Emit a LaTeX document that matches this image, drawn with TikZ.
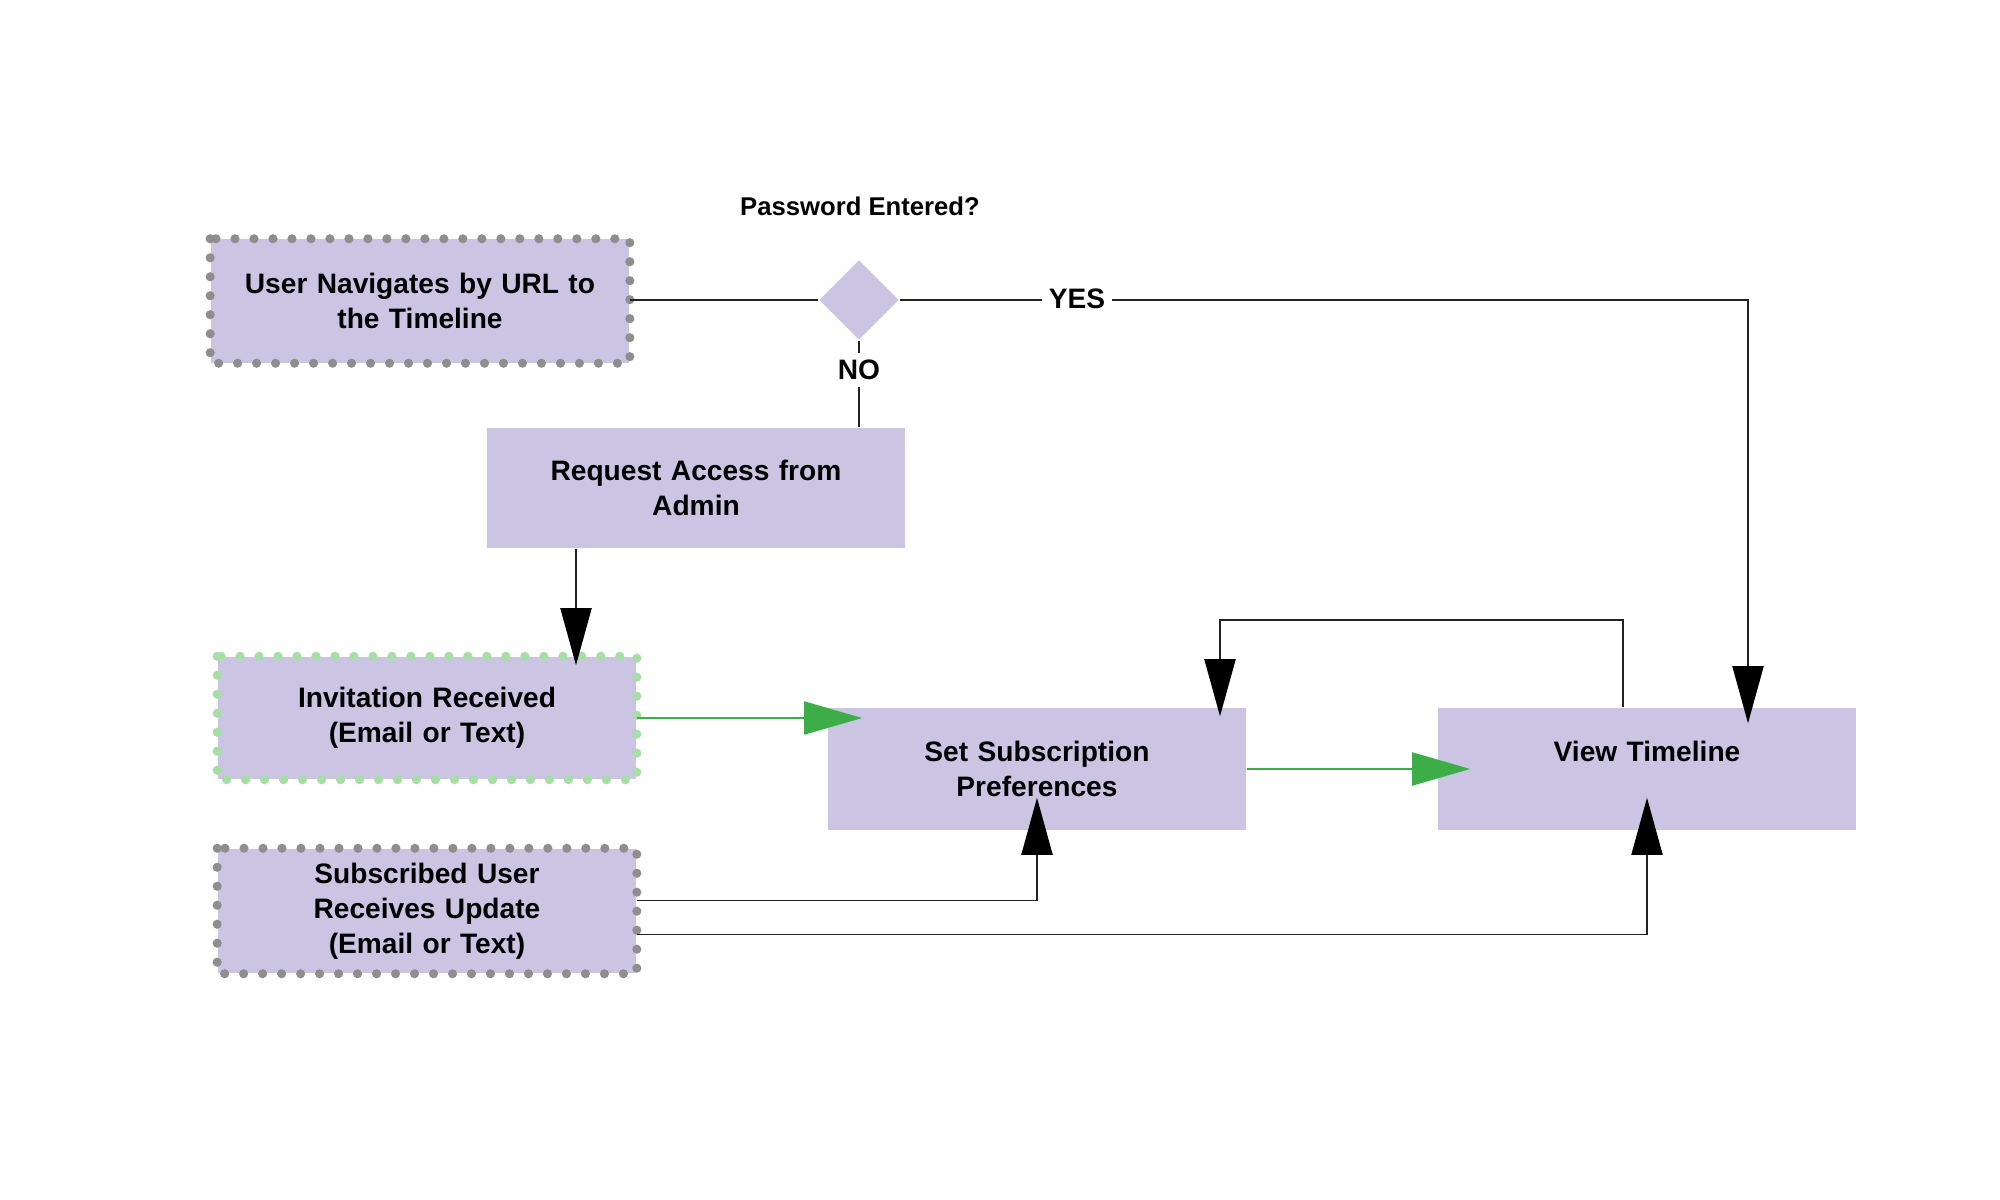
\documentclass[tikz,border=0pt]{standalone}
\usepackage{fontspec}
\setmainfont{Liberation Sans}
\usetikzlibrary{shapes.geometric,arrows.meta}
\definecolor{boxfill}{HTML}{CBC4E3}
\definecolor{dotgray}{HTML}{8E8E8E}
\definecolor{dotgreen}{HTML}{A6DEA6}
\definecolor{arrgreen}{HTML}{3DAE47}
\definecolor{linegray}{HTML}{222222}
\tikzset{
  box/.style={fill=boxfill, minimum width=4.18cm, minimum height=1.22cm, inner sep=0pt, text width=4cm, align=center, font=\fontsize{8}{10}\selectfont\bfseries},
  dotborder/.style={draw=#1, line width=2.6pt, line cap=round, dash pattern=on 0pt off 5.4pt},
  conn/.style={draw=linegray, line width=0.55pt},
  blackarr/.style={conn, -{Triangle[length=0.57cm,width=0.31cm,color=black,fill=black]}},
  greenarr/.style={draw=arrgreen, line width=0.55pt, -{Triangle[length=0.58cm,width=0.33cm]}},
  lbl/.style={font=\fontsize{8}{10}\selectfont\bfseries, fill=white, inner sep=2pt},
}
\begin{document}
\begin{tikzpicture}[x=0.01cm,y=-0.01cm]
\useasboundingbox[fill=white] (0,0) rectangle (2000,1200);
% nodes
\node[box, minimum height=1.23cm] (nav) at (420,301) {User Navigates by URL to\\the Timeline\\[0.35em]};
\draw[dotborder=dotgray] (nav.north west) rectangle (nav.south east);
\node[diamond, aspect=1, fill=boxfill, minimum size=0.8cm, inner sep=0pt] (dia) at (859,300) {};
\node[font=\fontsize{7.3}{9}\selectfont\bfseries] (pw) at (860,206) {Password Entered?};
\node[box, minimum height=1.2cm] (req) at (696,488) {Request Access from\\Admin};
\node[box] (inv) at (427,718) {Invitation Received\\(Email or Text)};
\draw[dotborder=dotgreen] (inv.north west) rectangle (inv.south east);
\node[box] (subp) at (1037,769) {Set Subscription\\Preferences};
\node[box] (view) at (1647,769) {View Timeline\\\mbox{}};
\node[box, minimum height=1.24cm] (subu) at (427,911) {Subscribed User\\Receives Update\\(Email or Text)};
\draw[dotborder=dotgray] (subu.north west) rectangle (subu.south east);
% helper coordinates
\coordinate (yesC) at (1748,300);
\coordinate (rx) at (576,0);
\coordinate (loopR) at (1623,620);
\coordinate (loopL) at (1220,620);
% connectors
\draw[conn] (nav.east |- dia.west) -- (dia.west);
\draw[blackarr, shorten >=-0.16cm] (dia.east) -- (yesC) -- (yesC |- view.north);
\node[lbl] (yes) at (1077,299) {YES};
\draw[conn] (dia.south) -- (req.north -| dia.south);
\node[lbl] (no) at (859,370) {NO};
\draw[blackarr, shorten >=-0.09cm] (req.south -| rx) -- (inv.north -| rx);
\draw[greenarr, shorten >=-0.35cm] (inv.east) -- (inv.east -| subp.west);
\draw[greenarr, shorten >=-0.33cm] (subp.east) -- (subp.east -| view.west);
\draw[blackarr, shorten >=-0.09cm] (view.north -| loopR) -- (loopR) -- (loopL) -- (loopL |- subp.north);
\draw[blackarr, shorten >=-0.33cm] ([yshift=0.105cm]subu.east) -| (subp.south);
\draw[blackarr, shorten >=-0.33cm] ([yshift=-0.235cm]subu.east) -| (view.south);
\end{tikzpicture}
\end{document}
